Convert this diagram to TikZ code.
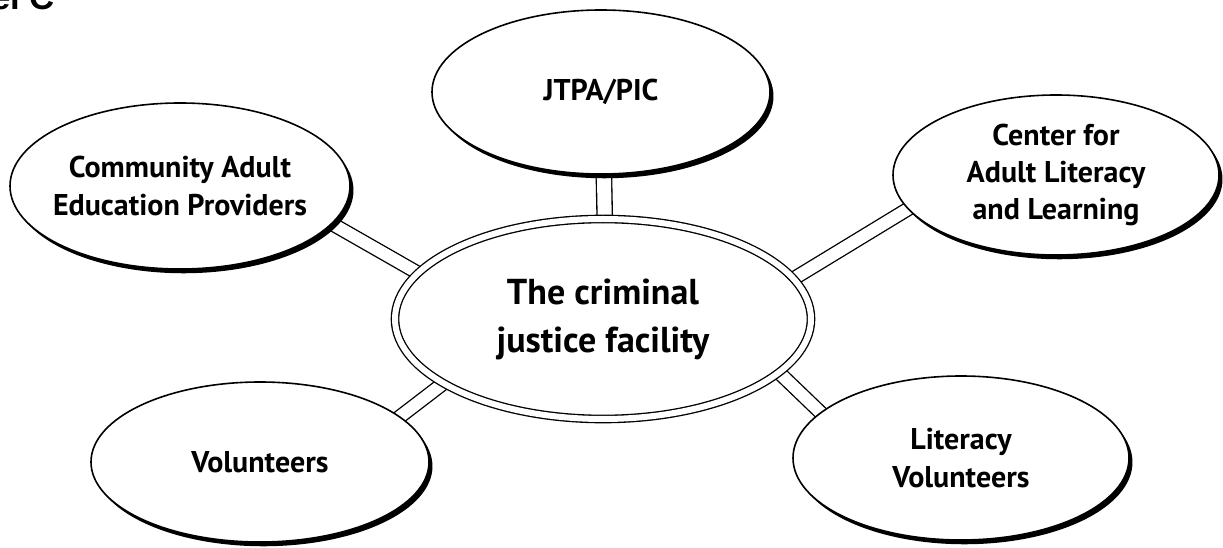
\documentclass[tikz,border=0pt]{standalone}
\usepackage{fontspec}
\setmainfont{PT Sans}
\newfontfamily\titlefont{Liberation Sans}
\usetikzlibrary{shapes.geometric,shadows,backgrounds}
\tikzset{
  bubble/.style={ellipse, draw=black, line width=1.2pt, fill=white, inner sep=-20pt, align=center,
    font=\fontsize{22.5}{28}\selectfont\bfseries,
    drop shadow={shadow xshift=2.6pt, shadow yshift=-3.2pt, fill=black, opacity=1}},
  hub/.style={ellipse, draw=black, line width=1pt, double=white, double distance=4.5pt,
    fill=white, inner sep=-20pt, align=center, font=\fontsize{27}{36}\selectfont\bfseries},
  link/.style={draw=black, line width=1pt, double=white, double distance=9pt,
    shorten <=-6pt, shorten >=-6pt},
}
\begin{document}
\begin{tikzpicture}[x=0.75pt,y=-0.75pt]
\useasboundingbox (0,0) rectangle (1223,548);
\node[font=\titlefont\fontsize{26}{30}\selectfont\bfseries, anchor=base east, inner sep=0] (title) at (55,10) {el C};

\node[hub, minimum width=312pt, minimum height=150pt] (hub) at (603,319) {The criminal\\justice facility};
\node[bubble, minimum width=253.5pt, minimum height=123pt] (jtpa) at (601,92) {JTPA/PIC};
\node[bubble, minimum width=255pt, minimum height=124.5pt] (comm) at (180,186) {Community Adult\\Education Providers};
\node[bubble, minimum width=244.5pt, minimum height=120pt] (cfal) at (1056,175) {Center for\\Adult Literacy\\and Learning};
\node[bubble, minimum width=253.5pt, minimum height=120pt] (vol) at (260,462) {Volunteers};
\node[bubble, minimum width=252pt, minimum height=123pt] (litvol) at (961,458) {Literacy\\Volunteers};

\begin{scope}[on background layer]
\draw[link] (comm.-14) -- (hub.166);
\draw[link, double distance=10.5pt] (jtpa.-88) -- (hub.89);
\draw[link] (hub.12) -- (cfal.193);
\draw[link] (hub.202) -- (vol.18);
\draw[link] (hub.-17) -- (litvol.162);
\end{scope}
\end{tikzpicture}
\end{document}
